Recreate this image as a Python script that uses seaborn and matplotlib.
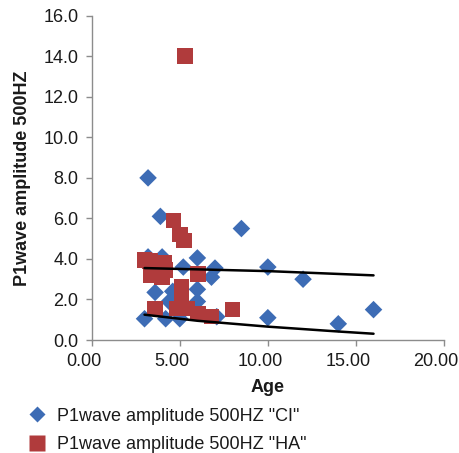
import matplotlib
matplotlib.use("Agg")
import matplotlib.pyplot as plt
import matplotlib.transforms as mtransforms
import seaborn as sns
import pandas as pd
from matplotlib.lines import Line2D

# Data
ci_age = [3.2, 3.9, 8.5, 3.2, 4.0, 6.0, 5.2, 7.0, 10.0, 6.8, 6.0, 3.6, 4.6, 4.4, 6.0,
          3.0, 4.2, 5.0, 7.1, 10.0, 12.0, 14.0, 16.0]
ci_amp = [8.0, 6.1, 5.5, 4.1, 4.1, 4.05, 3.6, 3.55, 3.6, 3.1, 2.5, 2.35, 2.4, 1.9, 1.9,
          1.05, 1.05, 1.05, 1.15, 1.1, 3.0, 0.8, 1.5]
ha_age = [5.3, 4.65, 5.0, 5.25, 3.0, 3.3, 4.1, 3.35, 4.0, 4.15, 6.05, 5.1, 5.1,
          3.6, 4.85, 5.4, 6.05, 6.8, 8.0]
ha_amp = [14.0, 5.9, 5.2, 4.9, 3.95, 3.9, 3.8, 3.2, 3.1, 3.45, 3.25, 2.65, 2.15,
          1.55, 1.55, 1.55, 1.3, 1.15, 1.5]
trend_upper_x = [3.0, 10.0, 16.0]
trend_upper_y = [3.55, 3.40, 3.19]
trend_lower_x = [3.0, 6.0, 10.0, 14.0, 16.0]
trend_lower_y = [1.25, 0.95, 0.66, 0.42, 0.31]
x_ticks = [0, 5, 10, 15, 20]
y_ticks = [0, 2, 4, 6, 8, 10, 12, 14, 16]
label_ci = 'P1wave amplitude 500HZ "CI"'
label_ha = 'P1wave amplitude 500HZ "HA"'

BLUE = "#3D6CB5"
RED = "#B03B3C"

sns.set_theme(style="white")
plt.rcParams['font.family'] = ['Liberation Sans', 'DejaVu Sans']

fig = plt.figure(figsize=(4.6, 4.53), dpi=100)
ax = fig.add_axes([0.1993, 0.2494, 0.7659, 0.7159])

df_ci = pd.DataFrame({"age": ci_age, "amp": ci_amp})
df_ha = pd.DataFrame({"age": ha_age, "amp": ha_amp})

sns.scatterplot(data=df_ci, x="age", y="amp", marker="D", s=80, color=BLUE,
                edgecolor="none", ax=ax, zorder=3)
sns.scatterplot(data=df_ha, x="age", y="amp", marker="s", s=125, color=RED,
                edgecolor="none", ax=ax, zorder=4)

df_tu = pd.DataFrame({"x": trend_upper_x, "y": trend_upper_y})
df_tl = pd.DataFrame({"x": trend_lower_x, "y": trend_lower_y})
sns.lineplot(data=df_tu, x="x", y="y", color="black", lw=1.8, ax=ax,
             estimator=None, sort=False, zorder=5)
sns.lineplot(data=df_tl, x="x", y="y", color="black", lw=1.8, ax=ax,
             estimator=None, sort=False, zorder=5)

ax.set_xlim(0, 20)
ax.set_ylim(0, 16)
ax.set_xticks(x_ticks)
ax.set_xticklabels([f"{v:.2f}" for v in x_ticks])
ax.set_yticks(y_ticks)
ax.set_yticklabels([f"{v:.1f}" for v in y_ticks])

for side in ["top", "right"]:
    ax.spines[side].set_visible(False)
for side in ["left", "bottom"]:
    ax.spines[side].set_color("#8C8C8C")
    ax.spines[side].set_linewidth(1.0)
ax.tick_params(axis="both", which="major", direction="out", length=4.5, width=1.0,
               color="#8C8C8C", labelsize=13, labelcolor="#1a1a1a", pad=5,
               left=True, bottom=True)

# x tick labels sit slightly left of their ticks in the reference
shift = mtransforms.ScaledTranslation(-8 / 100, 0, fig.dpi_scale_trans)
for lbl in ax.get_xticklabels():
    lbl.set_transform(lbl.get_transform() + shift)

ax.set_xlabel("Age", fontsize=13, fontweight="bold", labelpad=6, color="#1a1a1a")
ax.set_ylabel("P1wave amplitude 500HZ", fontsize=13, fontweight="bold", labelpad=9,
              color="#1a1a1a")

handles = [
    Line2D([], [], marker="D", linestyle="none", markersize=8, color=BLUE,
           markeredgecolor="none", label=label_ci),
    Line2D([], [], marker="s", linestyle="none", markersize=11, color=RED,
           markeredgecolor="none", label=label_ha),
]
fig.legend(handles=handles, loc="upper left", bbox_to_anchor=(0.045, 0.116),
           frameon=False, fontsize=13, handlelength=1.0, handletextpad=0.6,
           labelspacing=0.65, borderaxespad=0, labelcolor="#1a1a1a")

fig.savefig("out.png", dpi=100)
